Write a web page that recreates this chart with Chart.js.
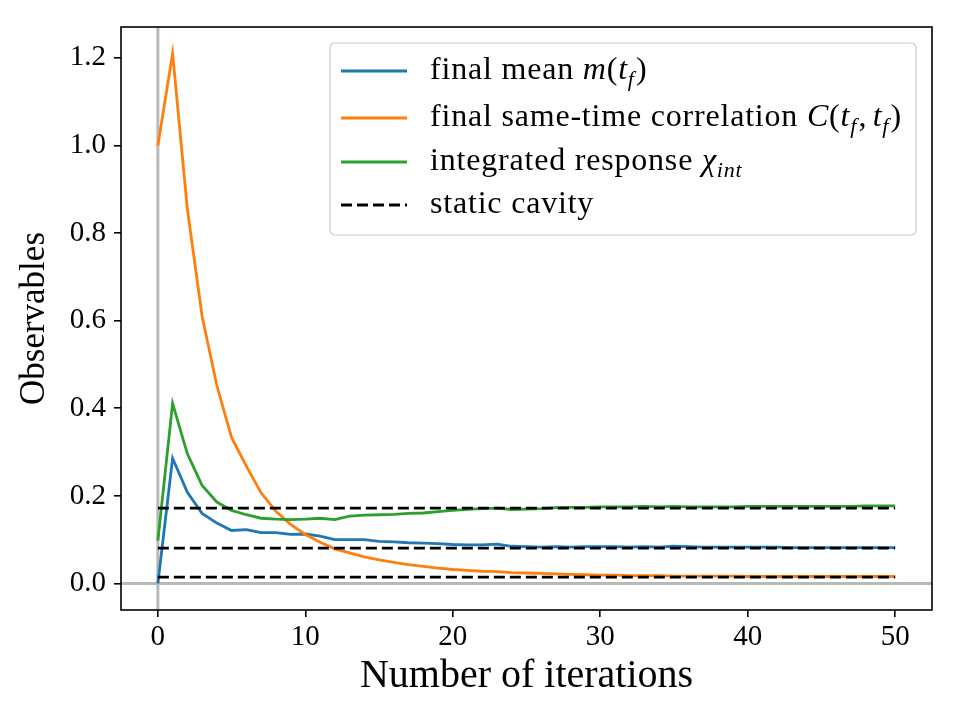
<!DOCTYPE html>
<html>
<head>
<meta charset="utf-8">
<title>Observables vs iterations</title>
<script src="https://cdn.jsdelivr.net/npm/chart.js@4.4.1/dist/chart.umd.min.js"></script>
<style>
  html, body { margin: 0; padding: 0; background: #fff; }
  #wrap { width: 960px; height: 720px; }
</style>
</head>
<body>
<div id="wrap"><canvas id="obs-chart" width="960" height="720"></canvas></div>
<script>
// data
const iterations = [
  0, 1, 2, 3, 4, 5, 6, 7, 8, 9,
  10, 11, 12, 13, 14, 15, 16, 17, 18, 19,
  20, 21, 22, 23, 24, 25, 26, 27, 28, 29,
  30, 31, 32, 33, 34, 35, 36, 37, 38, 39,
  40, 41, 42, 43, 44, 45, 46, 47, 48, 49, 50,
];
const finalMean = [
  0.000, 0.286, 0.208, 0.160, 0.138, 0.121, 0.123, 0.116, 0.116, 0.112,
  0.113, 0.108, 0.100, 0.100, 0.100, 0.096, 0.095, 0.093, 0.092, 0.091,
  0.089, 0.088, 0.088, 0.090, 0.085, 0.084, 0.083, 0.084, 0.083, 0.084,
  0.084, 0.084, 0.083, 0.084, 0.083, 0.085, 0.084, 0.083, 0.083, 0.083,
  0.083, 0.083, 0.083, 0.082, 0.082, 0.082, 0.082, 0.082, 0.082, 0.082, 0.082,
];
const sameTimeCorr = [
  1.000, 1.210, 0.855, 0.610, 0.452, 0.333, 0.268, 0.207, 0.165, 0.135,
  0.112, 0.094, 0.079, 0.070, 0.061, 0.054, 0.048, 0.043, 0.039, 0.035,
  0.032, 0.030, 0.028, 0.027, 0.025, 0.024, 0.023, 0.022, 0.021, 0.020,
  0.019, 0.019, 0.018, 0.018, 0.018, 0.017, 0.017, 0.017, 0.017, 0.017,
  0.016, 0.016, 0.016, 0.016, 0.016, 0.016, 0.016, 0.016, 0.016, 0.016, 0.016,
];
const intResponse = [
  0.098, 0.411, 0.296, 0.224, 0.186, 0.167, 0.157, 0.149, 0.147, 0.146,
  0.147, 0.149, 0.146, 0.154, 0.156, 0.157, 0.158, 0.160, 0.161, 0.164,
  0.167, 0.169, 0.171, 0.172, 0.169, 0.170, 0.171, 0.173, 0.174, 0.174,
  0.175, 0.175, 0.175, 0.176, 0.175, 0.176, 0.175, 0.175, 0.175, 0.175,
  0.176, 0.176, 0.176, 0.176, 0.176, 0.176, 0.176, 0.176, 0.177, 0.177, 0.177,
];
const staticCavity = [0.172, 0.0806, 0.0144];

const xTicks = [0, 10, 20, 30, 40, 50];
const yTicks = [0, 0.2, 0.4, 0.6, 0.8, 1.0, 1.2];
const xRange = [-2.5, 52.5];
const yRange = [-0.0605, 1.2705];

const legendLabels = [
  "final mean $m(t_f)$",
  "final same-time correlation $C(t_f,t_f)$",
  "integrated response $χ_{int}$",
  "static cavity",
];

const colors = { mean: "#1f77b4", corr: "#ff7f0e", resp: "#2ca02c", cavity: "#000000" };
const serif = "'Liberation Serif', 'DejaVu Serif', serif";
const lineW = 2.8;
const dash = [11, 5];

const toPoints = (ys) => ys.map((y, i) => ({ x: iterations[i], y: y }));
const last = iterations[iterations.length - 1];

// turn "$m(t_f)$" style labels into runs of plain / italic / subscript text
function parseTex(label) {
  const runs = [];
  label.split("$").forEach((part, k) => {
    if (k % 2 === 0) {
      if (part) runs.push({ text: part, italic: false, sub: false, gap: 0 });
      return;
    }
    for (let i = 0; i < part.length; i++) {
      const c = part[i];
      if (c === "_") {
        let s;
        if (part[i + 1] === "{") {
          const j = part.indexOf("}", i);
          s = part.slice(i + 2, j);
          i = j;
        } else {
          s = part[i + 1];
          i++;
        }
        runs.push({ text: s, italic: true, sub: true, gap: 0.04 });
      } else {
        runs.push({
          text: c,
          italic: /[A-Za-zα-ωχ]/.test(c),
          sub: false,
          gap: c === "," ? 0.17 : 0,
        });
      }
    }
  });
  return runs;
}

function runFont(r, size) {
  const s = r.sub ? Math.round(size * 0.7) : size;
  return (r.italic ? "italic " : "") + s + "px " + serif;
}

function runsWidth(ctx, runs, size) {
  let w = 0;
  runs.forEach((r) => {
    ctx.font = runFont(r, size);
    w += ctx.measureText(r.text).width + r.gap * size;
  });
  return w;
}

function drawRuns(ctx, runs, x, y, size) {
  runs.forEach((r) => {
    ctx.font = runFont(r, size);
    ctx.fillText(r.text, x, r.sub ? y + size * 0.24 : y);
    x += ctx.measureText(r.text).width + r.gap * size;
  });
}

const legendStyles = [
  { color: colors.mean, dash: [] },
  { color: colors.corr, dash: [] },
  { color: colors.resp, dash: [] },
  { color: colors.cavity, dash: dash },
];

const framePlugin = {
  id: "framePlugin",
  beforeDatasetsDraw(chart) {
    const { ctx, chartArea: a, scales } = chart;
    const x0 = scales.x.getPixelForValue(0);
    const y0 = scales.y.getPixelForValue(0);
    ctx.save();
    ctx.beginPath();
    ctx.rect(a.left, a.top, a.right - a.left, a.bottom - a.top);
    ctx.clip();
    ctx.strokeStyle = "rgba(128,128,128,0.55)";
    ctx.lineWidth = 3;
    ctx.beginPath();
    ctx.moveTo(x0, a.top);
    ctx.lineTo(x0, a.bottom);
    ctx.moveTo(a.left, y0);
    ctx.lineTo(a.right, y0);
    ctx.stroke();
    ctx.restore();
  },
  afterDraw(chart) {
    const { ctx, chartArea: a } = chart;
    ctx.save();
    // axes box
    ctx.strokeStyle = "#000";
    ctx.lineWidth = 1.6;
    ctx.strokeRect(a.left, a.top, a.right - a.left, a.bottom - a.top);

    // legend, upper right
    const size = 32;
    ctx.letterSpacing = "0.8px";
    const runsList = legendLabels.map(parseTex);
    const textW = Math.max(...runsList.map((r) => runsWidth(ctx, r, size)));
    const right = a.right - 16;
    const top = a.top + 16;
    const left = right - (100 + textW + 14);
    const height = 192;
    ctx.fillStyle = "rgba(255,255,255,0.8)";
    ctx.strokeStyle = "#cccccc";
    ctx.lineWidth = 1.2;
    ctx.beginPath();
    ctx.roundRect(left, top, right - left, height, 5);
    ctx.fill();
    ctx.stroke();

    const rowY = [28, 75, 119, 162];
    runsList.forEach((runs, i) => {
      const st = legendStyles[i];
      const yy = top + rowY[i];
      ctx.strokeStyle = st.color;
      ctx.lineWidth = lineW;
      ctx.setLineDash(st.dash);
      ctx.beginPath();
      ctx.moveTo(left + 11, yy);
      ctx.lineTo(left + 77, yy);
      ctx.stroke();
      ctx.setLineDash([]);
      ctx.fillStyle = "#000";
      ctx.textBaseline = "alphabetic";
      ctx.textAlign = "left";
      drawRuns(ctx, runs, left + 100, yy + 7.5, size);
    });
    ctx.restore();
  },
};

const curve = (data, color, order) => ({
  data: toPoints(data),
  borderColor: color,
  borderWidth: lineW,
  pointRadius: 0,
  tension: 0,
  fill: false,
  order: order,
});

const cavitySets = staticCavity.map((v) => ({
  data: [
    { x: iterations[0], y: v },
    { x: last, y: v },
  ],
  borderColor: colors.cavity,
  borderWidth: lineW,
  borderDash: dash,
  pointRadius: 0,
  fill: false,
  order: 0,
}));

const ctx = document.getElementById("obs-chart");

new Chart(ctx, {
  type: "line",
  data: {
    datasets: [
      curve(finalMean, colors.mean, 3),
      curve(sameTimeCorr, colors.corr, 2),
      curve(intResponse, colors.resp, 1),
      ...cavitySets,
    ],
  },
  options: {
    responsive: false,
    animation: false,
    layout: { padding: { top: 27, right: 28, left: 0, bottom: 0 } },
    plugins: { legend: { display: false }, tooltip: { enabled: false } },
    scales: {
      x: {
        type: "linear",
        min: xRange[0],
        max: xRange[1],
        afterBuildTicks: (s) => {
          s.ticks = xTicks.map((v) => ({ value: v }));
        },
        afterFit: (s) => {
          s.height = 110;
        },
        grid: { drawOnChartArea: false, tickLength: 7, color: "#000", lineWidth: 1.6 },
        border: { display: false },
        ticks: {
          color: "#000",
          font: { family: serif, size: 29 },
          padding: 3,
          maxRotation: 0,
          callback: (v) => String(v),
        },
        title: {
          display: true,
          text: "Number of iterations",
          color: "#000",
          font: { family: serif, size: 40 },
          padding: { top: 0, bottom: 20 },
        },
      },
      y: {
        type: "linear",
        min: yRange[0],
        max: yRange[1],
        afterBuildTicks: (s) => {
          s.ticks = yTicks.map((v) => ({ value: v }));
        },
        afterFit: (s) => {
          s.width = 121;
        },
        grid: { drawOnChartArea: false, tickLength: 7, color: "#000", lineWidth: 1.6 },
        border: { display: false },
        ticks: {
          color: "#000",
          font: { family: serif, size: 29 },
          padding: 8,
          callback: (v) => v.toFixed(1),
        },
        title: {
          display: true,
          text: "Observables",
          color: "#000",
          font: { family: serif, size: 35 },
          padding: { top: 14, bottom: 0 },
        },
      },
    },
  },
  plugins: [framePlugin],
});
</script>
</body>
</html>
